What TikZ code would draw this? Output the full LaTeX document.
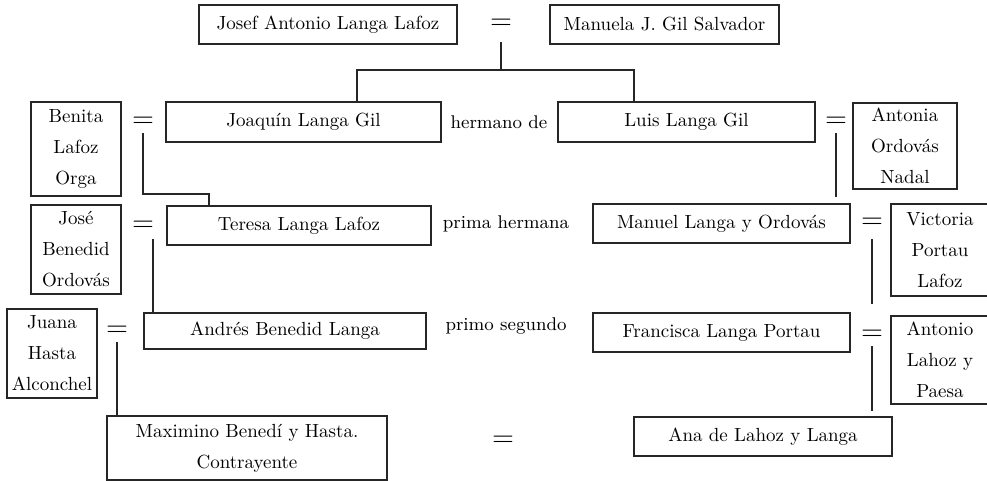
\documentclass[tikz,border=0pt]{standalone}
\usepackage{tikz}

\begin{document}
\begin{tikzpicture}[x=0.5pt, y=-0.5pt,
						persona/.style={draw=black!85, line width=0.6pt, inner sep=0pt, align=center, font=\fontsize{9.5}{15.5}\selectfont},
						igual/.style={inner sep=0pt, minimum height=11pt, font=\fontsize{13.5}{15}\selectfont},
						parentesco/.style={inner sep=0pt, font=\fontsize{9.2}{11}\selectfont},
						linea/.style={draw=black!85, line width=0.6pt}]
						\useasboundingbox (0,0) rectangle (987,481);
						
						\node[persona, minimum width=129pt, minimum height=19.5pt] (josef) at (328,24.5) {Josef Antonio Langa Lafoz};
						\node[igual] (eqA) at (501,24) {$=$};
						\node[persona, minimum width=114.5pt, minimum height=19.5pt] (manuela) at (664.5,24.5) {Manuela J. Gil Salvador};
						
						\node[persona, minimum width=45pt, minimum height=47pt] (benita) at (76,149) {Benita\\Lafoz\\Orga};
						\node[igual] (eqB) at (143,122) {$=$};
						\node[persona, minimum width=137.5pt, minimum height=20pt] (joaquin) at (303.5,122) {Joaquín Langa Gil};
						\node[parentesco] (hermano) at (499,122) {hermano de};
						\node[persona, minimum width=128.5pt, minimum height=20pt] (luis) at (686.5,122) {Luis Langa Gil};
						\node[igual] (eqC) at (836,122) {$=$};
						\node[persona, minimum width=52pt, minimum height=43pt] (antonia) at (905,146) {Antonia\\Ordovás\\Nadal};
						
						\node[persona, minimum width=45pt, minimum height=44.5pt] (jose) at (76,249.5) {José\\Benedid\\Ordovás};
						\node[igual] (eqD) at (143,226) {$=$};
						\node[persona, minimum width=132pt, minimum height=19.5pt] (teresa) at (299,225.5) {Teresa Langa Lafoz};
						\node[parentesco] (prima) at (506,224) {prima hermana};
						\node[persona, minimum width=128.5pt, minimum height=19.5pt] (manuel) at (721.5,223.5) {Manuel Langa y Ordovás};
						\node[igual] (eqE) at (872,223) {$=$};
						\node[persona, minimum width=49pt, minimum height=46pt] (victoria) at (940,250) {Victoria\\Portau\\Lafoz};
						
						\node[persona, minimum width=45pt, minimum height=44.5pt] (juana) at (52,353.5) {Juana\\Hasta\\Alconchel};
						\node[igual] (eqF) at (117,331) {$=$};
						\node[persona, minimum width=141pt, minimum height=18pt] (andres) at (285,331) {Andrés Benedid Langa};
						\node[parentesco] (primo) at (506,326) {primo segundo};
						\node[persona, minimum width=128.5pt, minimum height=19.5pt] (francisca) at (721.5,332.5) {Francisca Langa Portau};
						\node[igual] (eqG) at (872,335) {$=$};
						\node[persona, minimum width=49pt, minimum height=44pt] (antonio) at (940,360) {Antonio\\Lahoz y\\Paesa};
						
						\node[persona, minimum width=140pt, minimum height=32pt] (maximino) at (247,448) {Maximino Benedí y Hasta.\\Contrayente};
						\node[igual] (eqH) at (503,441) {$=$};
						\node[persona, minimum width=129pt, minimum height=19.5pt] (ana) at (763,436.5) {Ana de Lahoz y Langa};
						
						\coordinate (barra) at (501,70);
						\coordinate (hijoA) at (357,70);
						\coordinate (hijoB) at (634,70);
						\coordinate (codoB) at (209,194);
						
						\draw[linea, shorten <=3.5pt] (eqA.south) -- (barra);
						\draw[linea] (joaquin.north -| hijoA) -- (hijoA) -- (hijoB) -- (luis.north -| hijoB);
						\draw[linea] (eqB.south) |- (codoB) -- (codoB |- teresa.north);
						\draw[linea, shorten >=3pt] (eqC.south) -- (eqC.south |- manuel.north);
						\draw[linea, shorten <=1pt] ([xshift=5pt]eqD.south) -- ([xshift=5pt]eqD.south |- andres.north);
						\draw[linea, shorten <=2.5pt, shorten >=4pt] (eqE.south) -- (eqE.south |- francisca.north);
						\draw[linea] (eqF.south) -- (eqF.south |- maximino.north);
						\draw[linea, shorten >=2.5pt] (eqG.south) -- (eqG.south |- ana.north);
					\end{tikzpicture}
\end{document}
